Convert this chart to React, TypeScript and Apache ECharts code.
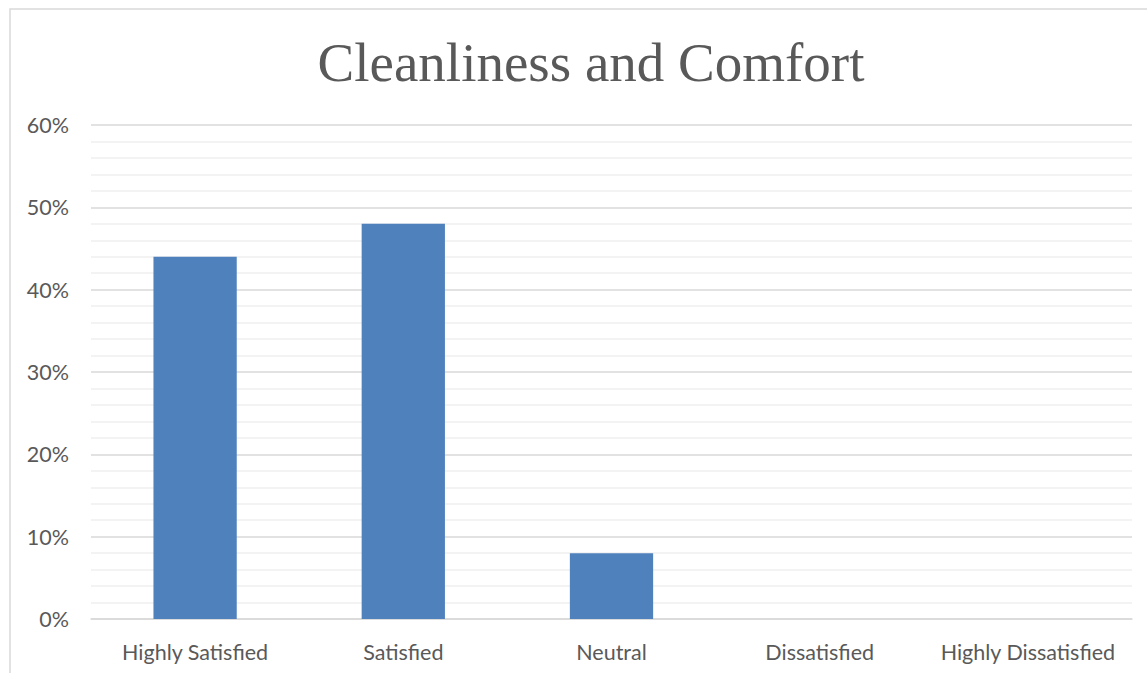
import React, { useEffect, useRef } from "react";
import * as echarts from "echarts";

const categories = ["Highly Satisfied", "Satisfied", "Neutral", "Dissatisfied", "Highly Dissatisfied"];
const values = [0.44, 0.48, 0.08, 0, 0];
const titleText = "Cleanliness and Comfort";

export default function App() {
  const ref = useRef<HTMLDivElement>(null);
  useEffect(() => {
    if (!ref.current) return;
    const chart = echarts.init(ref.current, null, { renderer: "svg" });
    chart.setOption({
      animation: false,
      backgroundColor: "#ffffff",
      title: {
        text: titleText,
        left: 586,
        textAlign: "center",
        top: 30,
        itemGap: 0,
        textStyle: {
          fontFamily: "Liberation Serif",
          fontWeight: "normal",
          fontSize: 55,
          color: "#595959",
        },
      },
      graphic: [
        {
          type: "rect",
          shape: { x: 10, y: 9, width: 1300, height: 800 },
          style: { fill: "none", stroke: "#d9d9d9", lineWidth: 1.5 },
          silent: true,
        },
      ],
      grid: { left: 91, right: 15, top: 125, bottom: 54, containLabel: false },
      xAxis: {
        type: "category",
        data: categories,
        axisLine: { show: true, lineStyle: { color: "#d9d9d9", width: 1.5 } },
        axisTick: { show: false },
        axisLabel: {
          color: "#595959",
          fontFamily: "Lato",
          fontSize: 21.5,
          margin: 22,
          interval: 0,
        },
      },
      yAxis: {
        type: "value",
        min: 0,
        max: 0.6,
        interval: 0.1,
        axisLine: { show: false },
        axisTick: { show: false },
        axisLabel: {
          color: "#595959",
          fontFamily: "Lato",
          fontSize: 21.5,
          margin: 22,
          formatter: (v: number) => Math.round(v * 100) + "%",
        },
        splitLine: { show: true, lineStyle: { color: "#d9d9d9", width: 1.5 } },
        minorTick: { show: false, splitNumber: 5 },
        minorSplitLine: { show: true, lineStyle: { color: "#efefef", width: 1.5 } },
      },
      series: [
        {
          type: "bar",
          data: values,
          barWidth: "40%",
          itemStyle: { color: "#4f81bd" },
        },
      ],
    });
    return () => chart.dispose();
  }, []);
  return (
    <div
      ref={ref}
      style={{ position: "fixed", left: 0, top: 0, width: 1147, height: 673 }}
    />
  );
}
